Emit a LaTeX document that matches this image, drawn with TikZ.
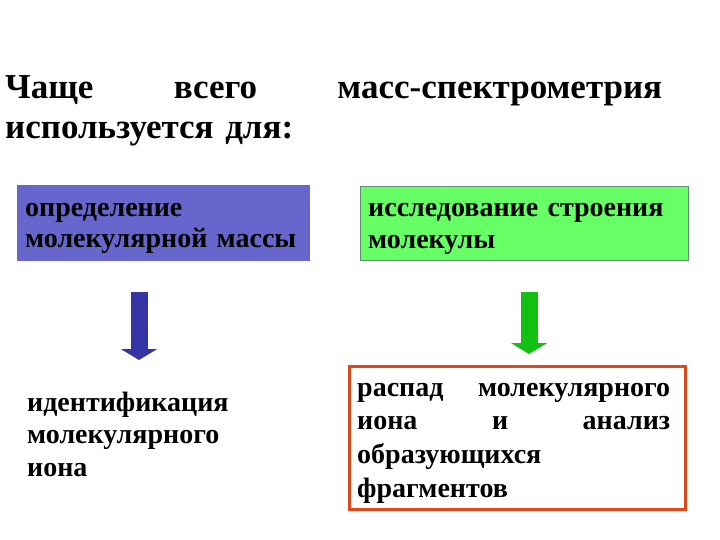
\documentclass[tikz,border=0pt]{standalone}
\usepackage{fontspec}
\setmainfont{Liberation Serif}
\usetikzlibrary{arrows.meta}
\setlength{\parindent}{0pt}
\definecolor{MassBlue}{HTML}{6666CC}
\definecolor{StructGreen}{HTML}{66FF66}
\definecolor{EdgeGreen}{HTML}{5E8F6E}
\definecolor{ArrowBlue}{HTML}{3535A5}
\definecolor{ArrowGreen}{HTML}{11C011}
\definecolor{FrameRed}{HTML}{E0481C}

\begin{document}
\begin{tikzpicture}[x=1pt,y=-1pt,
    panel/.style={anchor=north west,inner sep=0pt},
    txt/.style={anchor=base west,inner sep=0pt,text width=310pt,align=left,
                font=\fontsize{28}{32}\selectfont\bfseries},
    blockarr/.style={line width=17pt,-{Triangle[width=36pt,length=11pt]}}]
    \useasboundingbox (0,0) rectangle (720,540);
    % heading
    \node[anchor=base west,inner sep=0pt,text width=657pt,align=left,
          font=\fontsize{35}{40}\selectfont\bfseries] (head) at (5,99)
          {Чаще\hfill всего\hfill масс-спектрометрия\\используется для:};
    % upper panels
    \node[panel,fill=MassBlue,minimum width=293pt,minimum height=76pt] (mass) at (17,185) {};
    \node[panel,fill=StructGreen,draw=EdgeGreen,line width=.8pt,
          minimum width=328pt,minimum height=74pt] (struct) at (360,186) {};
    \node[txt] (massTxt) at (25,216) {определение\\молекулярной массы};
    \node[txt] (structTxt) at (368,217) {исследование строения\\молекулы};
    % arrows
    \coordinate (la1) at (139,292);
    \coordinate (la2) at (139,360);
    \coordinate (ra1) at (529,292);
    \coordinate (ra2) at (529,354);
    \draw[blockarr,ArrowBlue] (la1) -- (la2);
    \draw[blockarr,ArrowGreen] (ra1) -- (ra2);
    % lower part
    \node[txt,font=\fontsize{28}{32.5}\selectfont\bfseries] (ionTxt) at (27,411)
          {идентификация\\молекулярного\\иона};
    \node[panel,fill=white,draw=FrameRed,line width=3pt,
          minimum width=336pt,minimum height=143pt] (frag) at (348,365) {};
    \node[txt,text width=313pt,font=\fontsize{28}{33.7}\selectfont\bfseries] (fragTxt) at (357,396)
          {распад\hfill молекулярного\\иона\hfill и\hfill анализ\\образующихся\\фрагментов};
\end{tikzpicture}
\end{document}
